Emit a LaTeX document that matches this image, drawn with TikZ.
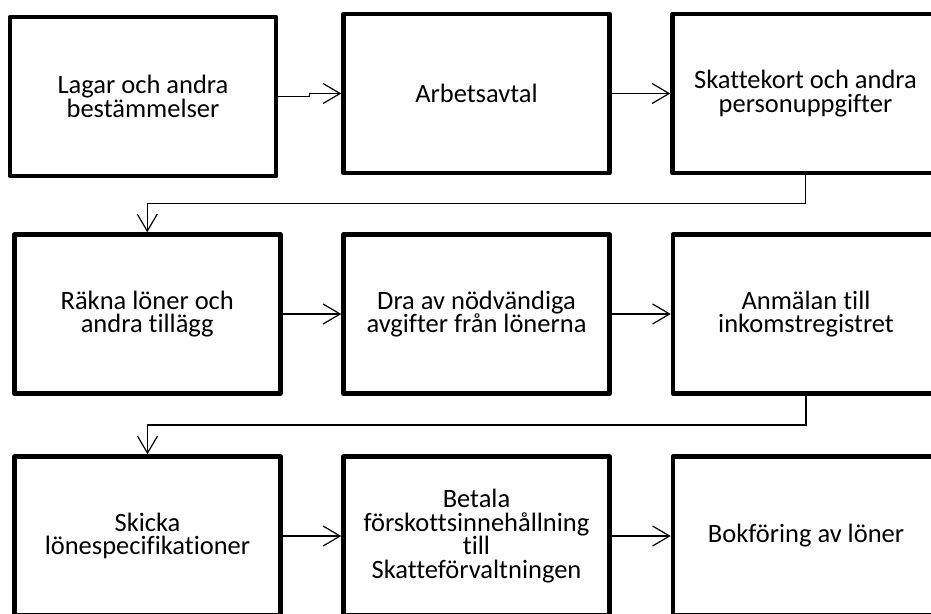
\documentclass[tikz,border=0pt]{standalone}
\usepackage{fontspec}
\setmainfont{Carlito}[Ligatures={NoCommon}]
\usetikzlibrary{arrows.meta,calc}
\begin{document}
\begin{tikzpicture}[x=1pt,y=-1pt,
  box/.style={draw=black,fill=white,line width=4.5pt,line join=round,minimum width=266pt,minimum height=159pt,inner sep=0pt,align=center,font=\fontsize{26.5}{23.5}\selectfont},
  conn/.style={line width=1.2pt,-{Straight Barb[length=17pt,width=20pt,line width=1.2pt]}}]
\useasboundingbox (0,0) rectangle (931,613);
\clip (0,0) rectangle (931,613);
% row 1
\node[box] (b1) at (143,96.5) {Lagar och andra\\bestämmelser};
\node[box] (b2) at (476.5,93.5) {Arbetsavtal};
\node[box] (b3) at (805.5,93.5) {Skattekort och andra\\personuppgifter};
% row 2
\node[box] (b4) at (147.25,314) {Räkna löner och\\andra tillägg};
\node[box] (b5) at (476.5,314) {Dra av nödvändiga\\avgifter från lönerna};
\node[box] (b6) at (806,314) {Anmälan till\\inkomstregistret};
% row 3
\node[box] (b7) at (147.5,536) {Skicka\\lönespecifikationer};
\node[box] (b8) at (476.5,536) {Betala\\förskottsinnehållning\\till\\Skatteförvaltningen};
\node[box] (b9) at (806,536) {Bokföring av löner};
% connectors
\draw[conn] (b1.east) -| ($(b1.east)!0.5!(b2.west)$) |- (b2.west);
\draw[conn] (b2) -- (b3);
\draw[conn] (b3.south) |- ($(b3.south)!0.5!(b4.north)$) -| (b4.north);
\draw[conn] (b4) -- (b5);
\draw[conn] (b5) -- (b6);
\draw[conn] (b6.south) |- ($(b6.south)!0.5!(b7.north)$) -| (b7.north);
\draw[conn] (b7) -- (b8);
\draw[conn] (b8) -- (b9);
\end{tikzpicture}
\end{document}
